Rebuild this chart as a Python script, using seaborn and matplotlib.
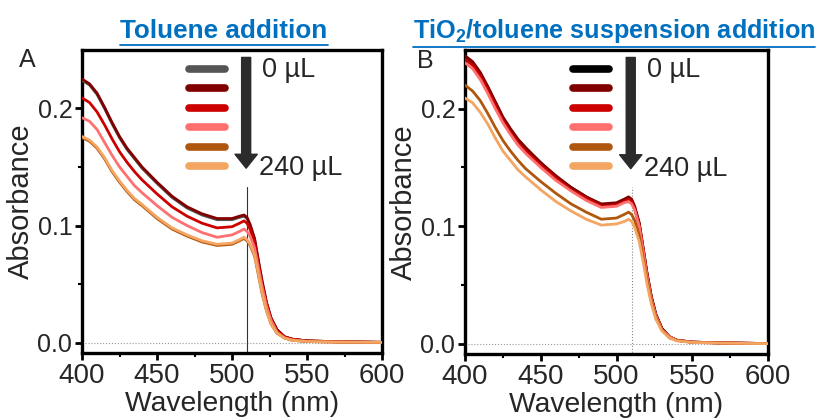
import matplotlib
matplotlib.use('Agg')
import matplotlib.pyplot as plt
import seaborn as sns
import numpy as np
import pandas as pd
from matplotlib.lines import Line2D

sns.set_style('ticks')
plt.rcParams['font.family'] = ['Liberation Sans', 'DejaVu Sans']
plt.rcParams['mathtext.fontset'] = 'custom'
plt.rcParams['mathtext.rm'] = 'Liberation Sans'
plt.rcParams['mathtext.bf'] = 'Liberation Sans:bold'

# wavelength grid (nm)
wl = [400, 405, 410, 415, 420, 425, 430, 435, 440, 450, 460, 470, 480, 490, 500, 505, 508,
      510, 512, 515, 518, 520, 523, 526, 530, 535, 540, 550, 570, 600]

volumes = ['0 µL', '48 µL', '96 µL', '144 µL', '192 µL', '240 µL']
colors = ['#555555', '#800000', '#cc0000', '#ff7070', '#b0570e', '#f4a562']
colors_b = ['#000000', '#800000', '#cc0000', '#ff7070', '#b0570e', '#f4a562']

# panel A: toluene addition
a_0 = [.224, .220, .212, .200, .187, .175, .165, .157, .149, .136, .124, .115, .109, .105, .105, .107, .108,
       .106, .100, .088, .066, .052, .034, .021, .011, .005, .003, .0015, .0008, .0003]
a_1 = [.225, .221, .213, .201, .188, .176, .166, .158, .150, .137, .125, .116, .110, .106, .106, .108, .109,
       .107, .101, .089, .067, .053, .034, .021, .011, .005, .003, .0015, .0008, .0003]
a_2 = [.209, .205, .197, .186, .174, .163, .154, .146, .139, .127, .116, .108, .102, .098, .099, .102, .104,
       .102, .097, .086, .064, .050, .033, .020, .010, .005, .003, .0015, .0008, .0003]
a_3 = [.192, .189, .182, .171, .160, .150, .142, .134, .128, .117, .107, .100, .094, .090, .092, .095, .097,
       .095, .091, .081, .061, .048, .031, .019, .009, .004, .0025, .001, .0006, .0002]
a_4 = [.175, .172, .166, .157, .146, .137, .129, .122, .117, .106, .097, .091, .086, .083, .084, .087, .089,
       .087, .083, .074, .055, .042, .027, .016, .008, .004, .002, .001, .0005, .0002]
a_5 = [.176, .173, .167, .158, .147, .138, .130, .123, .118, .107, .098, .092, .087, .084, .085, .088, .090,
       .088, .084, .075, .056, .043, .027, .016, .008, .004, .002, .001, .0005, .0002]

# panel B: TiO2/toluene suspension addition
b_0 = [.244, .239, .230, .218, .205, .192, .182, .173, .166, .154, .142, .133, .125, .118, .119, .122, .124,
       .122, .116, .102, .078, .061, .040, .025, .013, .006, .003, .0015, .0008, .0003]
b_1 = [.245, .240, .231, .219, .206, .193, .183, .174, .167, .154, .143, .133, .125, .119, .120, .123, .125,
       .123, .117, .103, .078, .061, .040, .025, .013, .006, .003, .0015, .0008, .0003]
b_2 = [.242, .237, .228, .216, .203, .190, .180, .171, .164, .152, .141, .131, .124, .117, .118, .121, .123,
       .121, .115, .101, .077, .060, .039, .024, .012, .006, .003, .0015, .0008, .0003]
b_3 = [.239, .234, .225, .213, .200, .188, .178, .169, .162, .150, .139, .130, .122, .116, .117, .120, .121,
       .119, .114, .100, .076, .059, .038, .024, .012, .006, .003, .0015, .0008, .0003]
b_4 = [.220, .215, .207, .196, .184, .173, .164, .156, .149, .138, .128, .119, .112, .106, .107, .110, .112,
       .110, .105, .092, .070, .055, .036, .022, .012, .005, .003, .0013, .0007, .0003]
b_5 = [.209, .205, .197, .187, .175, .164, .156, .148, .142, .131, .121, .113, .106, .101, .102, .104, .106,
       .104, .099, .087, .067, .052, .034, .021, .011, .005, .0025, .0012, .0006, .0002]

marker_nm = 510
marker_top = 0.133

fig = plt.figure(figsize=(8.22, 4.19), dpi=100)
axA = fig.add_axes([0.0998, 0.157, 0.365, 0.724])
axB = fig.add_axes([0.5657, 0.154, 0.3686, 0.727])

panels = [
    (axA, [a_0, a_1, a_2, a_3, a_4, a_5], colors, 'A', -0.183, 0.2725, 18.8, 'Toluene addition', '-', '#333333'),
    (axB, [b_0, b_1, b_2, b_3, b_4, b_5], colors_b, 'B', -0.13, 0.747, 18.2,
     r'TiO$_{\mathbf{2}}$/toluene suspension addition', ':', '#888888'),
]

titles = []
for ax, series, cols, letter, lx, tx, tsize, title, vstyle, vcol in panels:
    df = pd.DataFrame({'wl': wl * 6,
                       'abs': sum(series, []),
                       'vol': np.repeat(volumes, len(wl))})
    ax.axhline(0, color='#999999', lw=0.8, ls=':', zorder=1)
    ax.plot([marker_nm, marker_nm], [-0.02, marker_top], color=vcol, lw=0.8, ls=vstyle, zorder=1)
    sns.lineplot(data=df, x='wl', y='abs', hue='vol', palette=cols, hue_order=volumes,
                 lw=2.0, ax=ax, legend=False, zorder=3)
    ax.set_xlim(400, 600)
    ax.set_ylim(-0.009, 0.25)
    ax.set_xticks([400, 450, 500, 550, 600])
    ax.set_xticks([425, 475, 525, 575], minor=True)
    ax.set_yticks([0.0, 0.1, 0.2])
    ax.set_yticks([0.05, 0.15], minor=True)
    ax.set_yticklabels(['0.0', '0.1', '0.2'])
    ax.tick_params(which='major', length=5, width=2, pad=2, color='black')
    ax.tick_params(axis='x', labelsize=20)
    ax.tick_params(axis='y', labelsize=18)
    ax.tick_params(which='minor', length=3, width=1.5, color='black')
    for sp in ax.spines.values():
        sp.set_linewidth(2.4)
        sp.set_color('black')
    ax.set_xlabel('Wavelength (nm)', fontsize=20.3, labelpad=1.5)
    ax.set_ylabel('Absorbance', fontsize=21, labelpad=1.5)

    handles = [Line2D([], [], color=c, lw=5.5, solid_capstyle='round') for c in cols]
    ax.legend(handles, [''] * 6, loc='upper left', bbox_to_anchor=(0.322, 0.99),
              frameon=False, handlelength=2.45, fontsize=10.5, labelspacing=0.37,
              handletextpad=0, borderpad=0.2)
    ax.annotate('', xy=(0.547, 0.61), xytext=(0.547, 0.975), xycoords='axes fraction',
                arrowprops=dict(width=6.5, headwidth=16, headlength=10, color='#2b2b2b', shrink=0))
    ax.text(0.6, 0.935, '0 µL', transform=ax.transAxes, fontsize=19.5, va='center', ha='left')
    ax.text(0.59, 0.61, '240 µL', transform=ax.transAxes, fontsize=19.5, va='center', ha='left')
    ax.text(lx, 0.965, letter, transform=ax.transAxes, fontsize=18, va='center', ha='center')

    t = fig.text(tx, 0.925, title, fontsize=tsize, fontweight='bold',
                 color='#0070c0', ha='center', va='center')
    titles.append(t)

# underline the titles
fig.canvas.draw()
r = fig.canvas.get_renderer()
for t in titles:
    bb = t.get_window_extent(renderer=r).transformed(fig.transFigure.inverted())
    fig.add_artist(Line2D([bb.x0, bb.x1], [bb.y0 - 0.004, bb.y0 - 0.004], color='#0070c0',
                          lw=1.3, transform=fig.transFigure))

fig.savefig('out.png', dpi=100)
